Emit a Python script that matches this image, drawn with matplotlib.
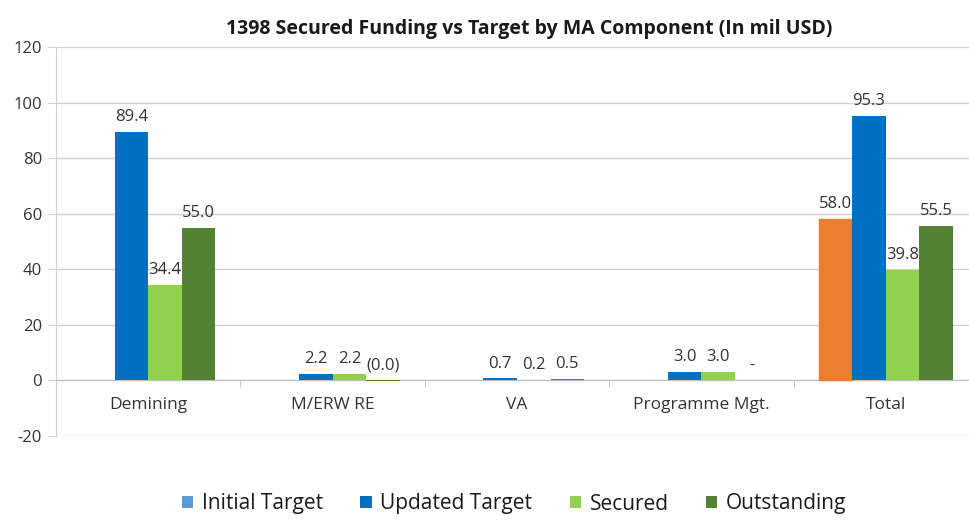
import matplotlib.pyplot as plt
import numpy as np

# Data (in mil USD)
categories = ['Demining', 'M/ERW RE', 'VA', 'Programme Mgt.', 'Total']
series = ['Initial Target', 'Updated Target', 'Secured', 'Outstanding']
initial_target = [np.nan, np.nan, np.nan, np.nan, 58.0]
updated_target = [89.4, 2.2, 0.7, 3.0, 95.3]
secured = [34.4, 2.2, 0.2, 3.0, 39.8]
outstanding = [55.0, -0.04, 0.5, 0.0, 55.5]

colors = ['#5B9BD5', '#0070C0', '#92D050', '#548235']
total_initial_color = '#ED7D31'

plt.rcParams['font.family'] = ['Open Sans', 'DejaVu Sans']
plt.rcParams['axes.unicode_minus'] = False

fig = plt.figure(figsize=(9.7, 5.2), dpi=100)
ax = fig.add_axes([56 / 970, 84 / 520, 922 / 970, 389 / 520])

x = np.arange(len(categories))
width = 0.182
values = [initial_target, updated_target, secured, outstanding]


def fmt(v):
    # Excel accounting style: negatives in brackets, zero as dash
    if np.isnan(v):
        return ''
    if abs(v) < 1e-9:
        return '-'
    if v < 0:
        return f'({abs(v):.1f})'
    return f'{v:.1f}'


for i, (name, vals) in enumerate(zip(series, values)):
    pos = x + (i - 1.5) * width
    bars = ax.bar(pos, vals, width, color=colors[i], label=name, zorder=3)
    if i == 0:
        bars[-1].set_color(total_initial_color)
    for p, v in zip(pos, vals):
        if np.isnan(v):
            continue
        ax.annotate(fmt(v), (p, max(v, 0)), textcoords='offset points',
                    xytext=(0, 5), ha='center', va='bottom', fontsize=12,
                    color='#333333', zorder=4)

ax.set_ylim(-20, 120)
ax.set_yticks(np.arange(-20, 121, 20))
ax.set_xlim(-0.5, len(categories) - 0.5)
ax.yaxis.grid(True, color='#d0d0d0', linewidth=1, zorder=0)
ax.tick_params(axis='y', length=6, color='#d0d0d0', labelsize=12, labelcolor='#333333', pad=4)

# category axis sits on zero
ax.spines['bottom'].set_position(('data', 0))
ax.spines['bottom'].set_color('#bfbfbf')
ax.spines['left'].set_color('#d0d0d0')
ax.spines['top'].set_visible(False)
ax.spines['right'].set_visible(False)
ax.set_xticks(x)
ax.set_xticklabels(categories)
ax.set_xticks(np.arange(0.5, len(categories) - 0.5, 1), minor=True)
ax.tick_params(axis='x', which='major', length=0, labelsize=12.5, labelcolor='#333333', pad=12)
ax.tick_params(axis='x', which='minor', length=5, color='#bfbfbf')

fig.text(0.546, 0.945, '1398 Secured Funding vs Target by MA Component (In mil USD)',
         ha='center', va='center', fontsize=14, fontweight='bold', color='#1a1a1a')

leg = fig.legend(loc='center', bbox_to_anchor=(0.53, 1 - 504 / 520), ncol=4, frameon=False,
                 fontsize=15, handlelength=0.55, handleheight=0.55, handletextpad=0.4,
                 columnspacing=1.8)
for t in leg.get_texts():
    t.set_color('#1a1a1a')

fig.savefig('out.png', dpi=100)
